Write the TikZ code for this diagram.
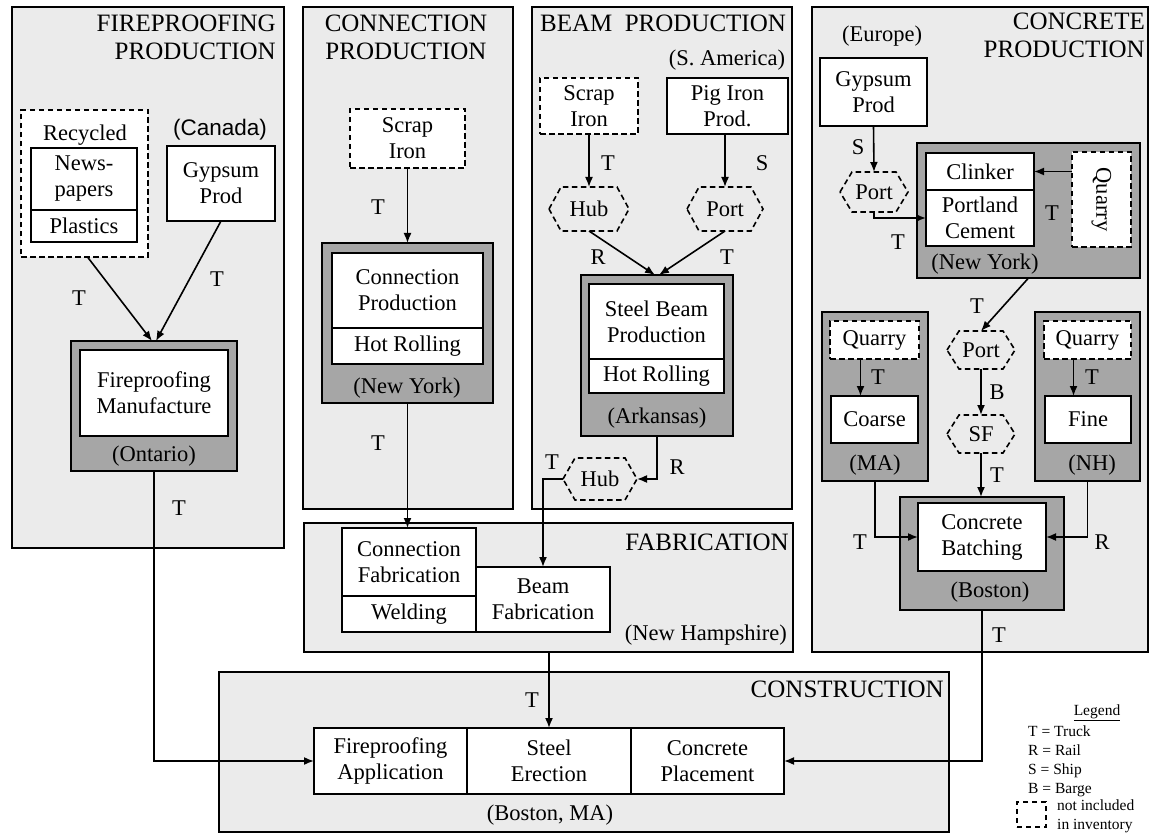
\documentclass[tikz,border=0pt]{standalone}
\usepackage{fontspec}
\setmainfont{Liberation Serif}
\setsansfont{Liberation Sans}
\usetikzlibrary{arrows.meta}
\newcommand{\bodyf}{\fontsize{22.5}{26}\selectfont}
\newcommand{\ttlf}{\fontsize{25}{28}\selectfont}
\newcommand{\legf}{\fontsize{15.5}{18.7}\selectfont}
\newcommand{\rbox}[7][]{%
  \pgfmathsetmacro\rbw{#5-#3}%
  \pgfmathsetmacro\rbh{#6-#4}%
  \pgfmathsetmacro\rbx{(#3+#5)/2}%
  \pgfmathsetmacro\rby{(#4+#6)/2}%
  \node[inner sep=0pt, outer sep=0pt, minimum width=\rbw pt, minimum height=\rbh pt, #1] (#2) at (\rbx,\rby) {#7};}
\newcommand{\hexn}[6]{%
  \rbox[hexin]{#1}{#2}{#3}{#4}{#5}{#6}%
  \draw[dsh] (#1.west) -- ([xshift=12pt]#1.north west) -- ([xshift=-12pt]#1.north east) -- (#1.east) -- ([xshift=-12pt]#1.south east) -- ([xshift=12pt]#1.south west) -- cycle;}
\begin{document}
\begin{tikzpicture}[x=1pt,y=-1pt,
  panel/.style={draw, line width=1.5pt, fill=black!8},
  loc/.style={draw, line width=1.6pt, fill=black!35},
  wbox/.style={draw, line width=1.6pt, fill=white, align=center, font=\bodyf},
  dsh/.style={line width=1.6pt, dash pattern=on 5.5pt off 3.5pt},
  dbox/.style={wbox, dsh},
  hexin/.style={font=\bodyf, align=center},
  lbl/.style={font=\bodyf, inner sep=0pt},
  ttl/.style={font=\ttlf, inner sep=0pt},
  arr/.style={line width=1.6pt, -{Latex[length=10pt,width=8pt]}},
]
\useasboundingbox (0,0) rectangle (1153,834);
\fill[white] (0,0) rectangle (1153,834);
% panels
\rbox[panel]{P1}{12}{7}{284}{548}{}
\rbox[panel]{P2}{303}{7}{513}{509}{}
\rbox[panel]{P3}{532}{7}{792}{509}{}
\rbox[panel]{P4}{812}{7}{1148}{652}{}
\rbox[panel]{P5}{304}{523}{793}{652}{}
\rbox[panel]{P6}{219}{672}{949}{832}{}
% titles
\node[ttl, anchor=east, align=right] (t1) at (276,37) {FIREPROOFING\\PRODUCTION};
\node[ttl, align=center] (t2) at (406,37) {CONNECTION\\PRODUCTION};
\node[ttl] (t3) at (663,23) {BEAM\ \ PRODUCTION};
\node[ttl, anchor=east, align=right] (t4) at (1145,35) {CONCRETE\\PRODUCTION};
\node[ttl, anchor=east] (t5) at (789,542) {FABRICATION};
\node[ttl, anchor=east] (t6) at (944,689) {CONSTRUCTION};
% fireproofing
\rbox[dbox]{rec}{21}{110}{148}{257}{}
\node[lbl] (recl) at (85,135) {Recycled};
\rbox[wbox]{news}{31}{148}{137}{210}{News-\\papers}
\rbox[wbox]{plas}{31}{210}{137}{242}{Plastics}
\node[lbl, font=\bodyf\sffamily] (can) at (220,130) {(Canada)};
\rbox[wbox]{gyp1}{167}{146}{275}{221}{Gypsum\\Prod}
\rbox[loc]{ont}{71}{341}{237}{471}{}
\rbox[wbox]{fm}{80}{350}{228}{436}{Fireproofing\\Manufacture}
\node[lbl] (ontl) at (154,456) {(Ontario)};
\draw[arr] ([xshift=3pt]rec.south) -- ([xshift=-2pt]ont.north);
\draw[arr] (gyp1.south) -- ([xshift=2pt]ont.north);
\node[lbl] (la1) at (79,298) {T};
\node[lbl] (la2) at (217,279) {T};
\node[lbl] (la3) at (179,508) {T};
% connection
\rbox[dbox]{scr1}{350}{109}{465}{168}{Scrap\\Iron}
\rbox[loc]{ny1}{322}{243}{493}{403}{}
\rbox[wbox]{cp1}{332}{253}{483}{328}{Connection\\Production}
\rbox[wbox]{hr1}{332}{328}{483}{364}{Hot Rolling}
\node[lbl] (ny1l) at (407,388) {(New York)};
\draw[arr] (scr1.south) -- (ny1.north);
\node[lbl] (lb1) at (378,207) {T};
\node[lbl] (lb2) at (378,443) {T};
% beam
\node[lbl] (sam) at (727,60) {(S. America)};
\rbox[dbox]{scr2}{540}{78}{638}{134}{Scrap\\Iron}
\rbox[wbox]{pig}{667}{78}{788}{134}{Pig Iron\\Prod.}
\hexn{hub1}{549}{187}{629}{231}{Hub}
\hexn{port1}{687}{187}{763}{231}{Port}
\draw[arr] (scr2.south) -- (hub1.north);
\draw[arr] (port1.north |- pig.south) -- (port1.north);
\node[lbl] (lc1) at (608,163) {T};
\node[lbl] (lc2) at (762,163) {S};
\rbox[loc]{ark}{581}{275}{733}{436}{}
\rbox[wbox]{sbp}{589}{284}{724}{359}{Steel Beam\\Production}
\rbox[wbox]{hr2}{589}{359}{724}{393}{Hot Rolling}
\node[lbl] (arkl) at (657,418) {(Arkansas)};
\draw[arr] (hub1.south) -- ([xshift=-2pt]ark.north);
\draw[arr] (port1.south) -- ([xshift=2pt]ark.north);
\node[lbl] (lc3) at (598,257) {R};
\node[lbl] (lc4) at (727,257) {T};
\hexn{hub2}{563}{458}{637}{500}{Hub}
\node[lbl] (lc5) at (677,467) {R};
\node[lbl] (lc6) at (552,462) {T};
% fabrication
\rbox[wbox]{cf}{342}{528}{476}{596}{Connection\\Fabrication}
\rbox[wbox]{wel}{342}{596}{476}{632}{Welding}
\rbox[wbox]{bf}{476}{567}{610}{632}{Beam\\Fabrication}
\node[lbl, anchor=east] (nhl) at (787,635) {(New Hampshire)};
\draw[arr] (ny1.south) -- (ny1.south |- cf.north);
\draw[arr] (ark.south) |- (hub2.east);
\draw[arr] (hub2.west) -| (bf.north);
% construction
\rbox[wbox]{fa}{314}{728}{467}{794}{Fireproofing\\Application}
\rbox[wbox]{se}{467}{728}{631}{794}{Steel\\Erection}
\rbox[wbox]{cpl}{631}{728}{784}{794}{Concrete\\Placement}
\node[lbl] (bml) at (550,815) {(Boston, MA)};
\coordinate (fabout) at (549,652);
\draw[arr] (fabout) -- (se.north);
\node[lbl] (ld1) at (532,700) {T};
\draw[arr] (ont.south) |- (fa.west);
% concrete
\node[lbl] (eur) at (882,36) {(Europe)};
\rbox[wbox]{gyp2}{820}{58}{927}{126}{Gypsum\\Prod}
\hexn{port2}{840}{172}{908}{212}{Port}
\draw[arr] (gyp2.south) -- (port2.north);
\node[lbl] (le1) at (858,147) {S};
\rbox[loc]{ny2}{917}{143}{1140}{278}{}
\rbox[wbox]{clk}{926}{153}{1034}{190}{Clinker}
\rbox[wbox]{pc}{926}{190}{1034}{246}{Portland\\Cement}
\node[lbl] (ny2l) at (985,264) {(New York)};
\rbox[dbox]{q1}{1072}{152}{1131}{247}{}
\node[lbl, rotate=-90] (q1l) at (q1) {Quarry};
\draw[arr] (clk.east -| q1.west) -- (clk.east);
\node[lbl] (le2) at (1052,213) {T};
\draw[arr] (port2.south) |- (pc.west);
\node[lbl] (le3) at (898,242) {T};
\hexn{port3}{947}{331}{1015}{369}{Port}
\hexn{sf}{947}{415}{1015}{453}{SF}
\draw[arr] (ny2.south) -- (port3.north);
\node[lbl] (le4) at (977,306) {T};
\draw[arr] (port3.south) -- (sf.north);
\node[lbl] (le5) at (997,392) {B};
\rbox[loc]{ma}{822}{312}{928}{481}{}
\rbox[dbox]{q2}{830}{321}{919}{359}{Quarry}
\rbox[wbox]{coarse}{831}{396}{918}{443}{Coarse}
\node[lbl] (mal) at (875,465) {(MA)};
\draw[arr] ([xshift=-14pt]q2.south) -- ([xshift=-14pt]q2.south |- coarse.north);
\node[lbl] (le6) at (878,377) {T};
\rbox[loc]{nh}{1035}{312}{1140}{481}{}
\rbox[dbox]{q3}{1044}{321}{1131}{359}{Quarry}
\rbox[wbox]{fine}{1045}{396}{1131}{443}{Fine}
\node[lbl] (nhl2) at (1092,465) {(NH)};
\draw[arr] ([xshift=-14pt]q3.south) -- ([xshift=-14pt]q3.south |- fine.north);
\node[lbl] (le7) at (1092,377) {T};
\rbox[loc]{bos}{900}{497}{1064}{610}{}
\rbox[wbox]{cb}{918}{503}{1046}{571}{Concrete\\Batching}
\node[lbl] (bosl) at (990,592) {(Boston)};
\draw[arr] (sf.south) -- (sf.south |- bos.north);
\node[lbl] (le8) at (997,475) {T};
\draw[arr] (ma.south) |- (cb.west);
\node[lbl] (le9) at (860,542) {T};
\draw[arr] (nh.south) |- (cb.east);
\node[lbl] (le10) at (1102,542) {R};
\draw[arr] (bos.south) |- (cpl.east);
\node[lbl] (le11) at (999,635) {T};
% legend
\node[font=\legf, inner sep=0pt] (leg) at (1097,713) {\underline{Legend}};
\node[font=\legf, inner sep=0pt, anchor=north west, align=left] (legt) at (1028,726) {T = Truck\\R = Rail\\S = Ship\\B = Barge};
\rbox[draw, line width=1.4pt, dash pattern=on 5pt off 4pt]{legbox}{1017}{802}{1046}{827}{}
\node[font=\legf, inner sep=0pt, anchor=west, align=left] (legn) at (1057,816.5) {not included\\in inventory};
\end{tikzpicture}
\end{document}
